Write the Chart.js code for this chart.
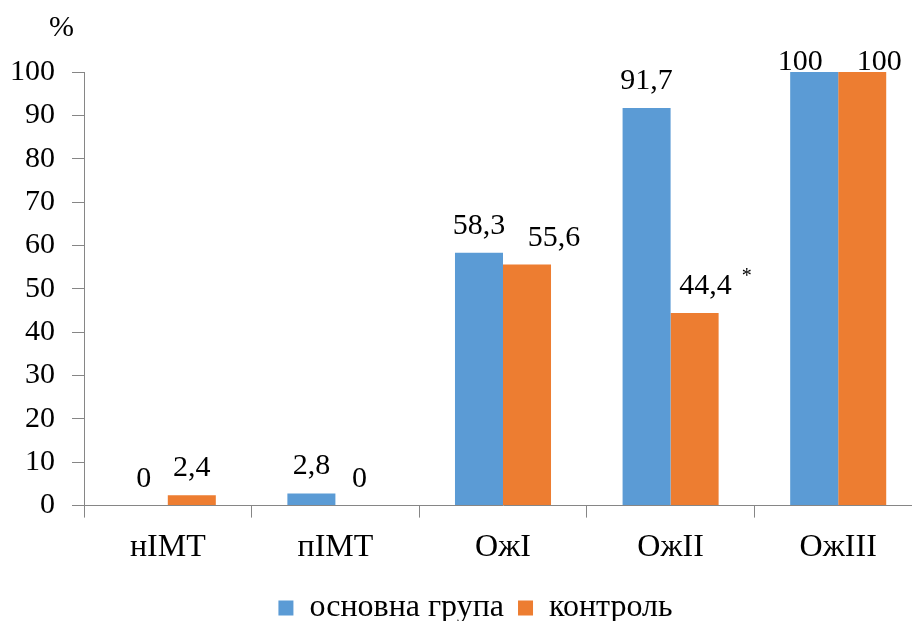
<!DOCTYPE html>
<html>
<head>
<meta charset="utf-8">
<script src="https://cdn.jsdelivr.net/npm/chart.js@4"></script>
<style>
  html, body { margin: 0; padding: 0; background: #fff; overflow: hidden; }
  #wrap { width: 912px; height: 621px; overflow: hidden; position: relative; }
  #box { position: absolute; left: 0; top: 0; width: 922px; height: 648px; }
</style>
</head>
<body>
<div id="wrap"><div id="box"><canvas id="c"></canvas></div></div>
<script>
const categories = ['нІМТ', 'пІМТ', 'ОжІ', 'ОжІІ', 'ОжІІІ'];
const mainGroup = [0, 2.8, 58.3, 91.7, 100];
const controlGroup = [2.4, 0, 55.6, 44.4, 100];
const seriesNames = ['основна група', 'контроль'];
const controlMarks = ['', '', '', '*', ''];
const yTicks = [0, 10, 20, 30, 40, 50, 60, 70, 80, 90, 100];
const yUnit = '%';

const FONT = '"Liberation Serif", "Times New Roman", serif';
const AXIS = '#868686';

// horizontal nudges of the value labels (as placed in the original)
const labelShift = [[0, 0], [0, 0], [0, 27], [0, 11], [-14, 17]];

const fmt = v => String(v).replace('.', ',');

const labelPlugin = {
  id: 'valueLabels',
  afterLayout(chart) {
    if (chart.legend) { chart.legend.left += 9.5; chart.legend.right += 9.5; }
  },
  afterDatasetsDraw(chart) {
    const ctx = chart.ctx;
    const top = chart.chartArea.top;
    ctx.save();
    ctx.fillStyle = '#000';
    ctx.textAlign = 'center';
    ctx.textBaseline = 'alphabetic';
    chart.data.datasets.forEach((ds, di) => {
      const meta = chart.getDatasetMeta(di);
      meta.data.forEach((el, i) => {
        const txt = fmt(ds.data[i]);
        const x = el.x + labelShift[i][di];
        const y = Math.max(el.y - 19, top - 2);
        ctx.font = '30px ' + FONT;
        ctx.fillText(txt, x, y);
        if (di === 1 && controlMarks[i]) {
          const w = ctx.measureText(txt).width;
          ctx.font = '20px ' + FONT;
          ctx.textAlign = 'left';
          ctx.fillText(controlMarks[i], x + w / 2 + 10, y - 12);
          ctx.textAlign = 'center';
        }
      });
    });
    // unit label
    ctx.font = '30px ' + FONT;
    ctx.textAlign = 'left';
    ctx.fillText(yUnit, 49, 36);
    ctx.restore();
  }
};

new Chart(document.getElementById('c'), {
  type: 'bar',
  data: {
    labels: categories,
    datasets: [
      { label: seriesNames[0], data: mainGroup, backgroundColor: '#5B9BD5', borderWidth: 0 },
      { label: seriesNames[1], data: controlGroup, backgroundColor: '#ED7D31', borderWidth: 0 }
    ]
  },
  options: {
    responsive: true,
    maintainAspectRatio: false,
    animation: false,
    events: [],
    layout: { padding: { left: 10, right: 0, top: 72, bottom: 14 } },
    datasets: { bar: { categoryPercentage: 0.573, barPercentage: 1 } },
    plugins: {
      tooltip: { enabled: false },
      legend: {
        position: 'bottom',
        labels: {
          font: { family: FONT, size: 32 },
          color: '#000',
          boxWidth: 15,
          boxHeight: 15,
          padding: 14
        }
      }
    },
    scales: {
      x: {
        grid: { display: true, drawOnChartArea: false, drawTicks: true, tickLength: 12, color: AXIS, offset: true },
        border: { color: AXIS, width: 1 },
        ticks: { font: { family: FONT, size: 32 }, color: '#000', padding: 11, maxRotation: 0 }
      },
      y: {
        min: 0, max: 100,
        afterBuildTicks(scale) { scale.ticks = yTicks.map(v => ({ value: v })); },
        afterFit(scale) { scale.width = 74; },
        grid: { display: true, drawOnChartArea: false, drawTicks: true, tickLength: 12, color: AXIS },
        border: { color: AXIS, width: 1 },
        ticks: { font: { family: FONT, size: 30 }, color: '#000', padding: 17 }
      }
    }
  },
  plugins: [labelPlugin]
});
</script>
</body>
</html>
